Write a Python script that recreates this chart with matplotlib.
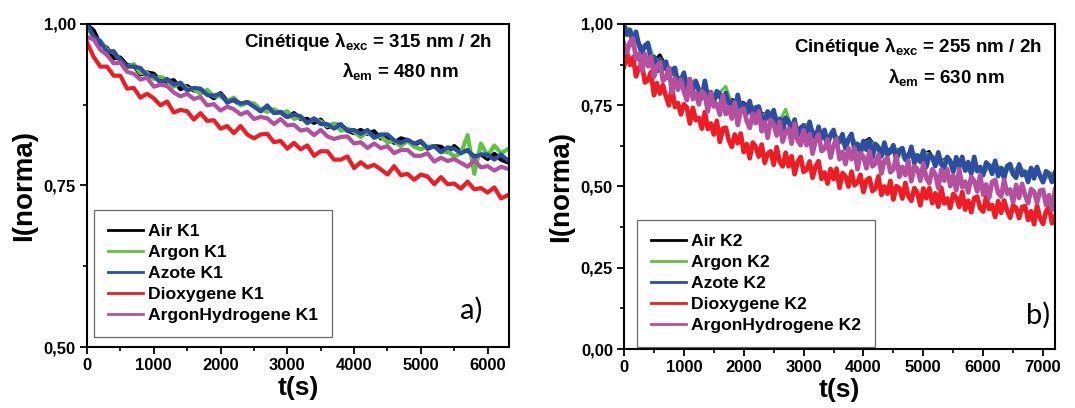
import numpy as np
import matplotlib
matplotlib.use("Agg")
import matplotlib.pyplot as plt
from matplotlib.ticker import FuncFormatter, MultipleLocator

# ---------------- data ----------------
t_k1 = np.arange(0, 6301, 100)          # s, panel a)
t_k2 = np.arange(0, 7201, 50)           # s, panel b) (dense series)
t_k2c = np.arange(0, 7201, 100)         # s, panel b) (mostly hidden series)

air_k1 = [.999, .990, .969, .963, .947, .948, .936, .936, .922, .925, .923, .912, .911, .913, .899, .904,
          .897, .899, .892, .885, .893, .881, .882, .875, .879, .875, .865, .872, .863, .863, .856, .862,
          .853, .853, .847, .852, .840, .844, .844, .835, .831, .836, .830, .834, .823, .826, .816, .823,
          .820, .813, .818, .807, .811, .810, .802, .811, .802, .804, .795, .798, .791, .799, .790, .786]
argon_k1 = [.995, .979, .974, .960, .956, .944, .933, .938, .924, .924, .915, .918, .914, .903, .909, .900,
            .899, .892, .898, .888, .888, .881, .886, .874, .878, .877, .868, .864, .868, .862, .865, .853,
            .856, .846, .853, .849, .842, .846, .835, .838, .833, .825, .833, .824, .826, .817, .819, .811,
            .819, .810, .806, .810, .811, .801, .803, .795, .800, .828, .768, .815, .796, .812, .800, .806]
azote_k1 = [1.000, .981, .973, .957, .958, .943, .934, .934, .932, .920, .920, .909, .915, .906, .909, .897,
            .901, .900, .890, .889, .892, .878, .883, .877, .879, .872, .865, .874, .862, .864, .856, .860,
            .857, .847, .854, .845, .845, .838, .845, .835, .836, .830, .836, .824, .829, .829, .820, .816,
            .821, .815, .819, .808, .811, .802, .809, .807, .800, .805, .794, .798, .798, .790, .798, .789]
dioxy_k1 = [.972, .949, .934, .934, .920, .920, .900, .901, .886, .892, .885, .874, .880, .863, .867, .865,
            .852, .862, .850, .851, .838, .842, .831, .842, .829, .823, .829, .830, .817, .819, .807, .816,
            .806, .812, .796, .803, .803, .790, .790, .795, .777, .786, .778, .782, .775, .767, .780, .766,
            .768, .759, .767, .764, .752, .763, .752, .753, .745, .756, .744, .746, .739, .747, .730, .735]
arhyd_k1 = [.980, .976, .960, .952, .939, .940, .926, .923, .914, .917, .903, .906, .904, .894, .888, .892,
            .884, .887, .874, .876, .866, .872, .868, .860, .864, .853, .856, .854, .845, .853, .843, .844,
            .835, .837, .828, .836, .826, .822, .825, .826, .815, .817, .808, .815, .808, .811, .800, .805,
            .805, .796, .796, .800, .787, .793, .788, .791, .785, .779, .789, .778, .780, .773, .779, .776]

air_k2 = [.995, .968, .960, .925, .930, .885, .905, .870, .850, .832, .840, .812, .815, .790, .785, .772,
          .778, .770, .768, .760, .758, .745, .735, .725, .722, .720, .700, .712, .690, .668, .682, .690,
          .655, .660, .640, .662, .645, .628, .655, .620, .635, .648, .622, .600, .612, .620, .605, .590,
          .612, .585, .600, .608, .570, .578, .588, .555, .570, .556, .548, .560, .540, .562, .570, .550,
          .556, .545, .562, .540, .550, .555, .520, .535, .538]
argon_k2 = [.990, .985, .955, .918, .945, .892, .890, .875, .862, .825, .845, .818, .828, .782, .780, .768,
            .790, .808, .755, .770, .745, .755, .738, .718, .728, .728, .702, .738, .680, .662, .690, .692,
            .645, .655, .632, .668, .640, .622, .650, .628, .632, .640, .625, .595, .605, .622, .608, .578,
            .615, .590, .605, .600, .565, .575, .585, .548, .568, .552, .545, .555, .538, .560, .572, .552,
            .558, .540, .565, .545, .548, .556, .515, .540, .540]
azote_k2 = [1.000, .967, .981, .935, .976, .934, .910, .934, .941, .888, .899, .855, .893, .861, .884, .833,
            .858, .865, .819, .826, .850, .789, .825, .798, .824, .795, .773, .825, .775, .790, .761, .793,
            .785, .744, .788, .755, .762, .734, .782, .737, .754, .725, .763, .707, .743, .746, .714, .697,
            .731, .707, .735, .686, .708, .668, .712, .700, .673, .706, .656, .681, .688, .651, .699, .659,
            .647, .684, .648, .674, .627, .659, .674, .632, .638, .661, .617, .646, .662, .613, .631, .600,
            .640, .613, .642, .589, .631, .621, .593, .635, .598, .606, .627, .580, .612, .618, .583, .590,
            .622, .571, .596, .576, .610, .560, .597, .591, .563, .605, .569, .556, .591, .579, .545, .590,
            .563, .591, .549, .575, .539, .591, .547, .560, .535, .574, .564, .539, .579, .532, .557, .525,
            .563, .569, .537, .527, .568, .535, .545, .514, .557, .525, .560, .532, .513, .547, .540, .514,
            .543]
dioxy_k2 = [.869, .911, .874, .898, .839, .866, .873, .820, .827, .852, .781, .818, .786, .812, .777, .750,
            .805, .745, .757, .722, .753, .743, .694, .742, .704, .711, .678, .729, .677, .694, .660, .702,
            .637, .678, .681, .643, .622, .660, .633, .663, .606, .630, .587, .635, .622, .592, .629, .573,
            .601, .608, .567, .621, .576, .562, .604, .562, .593, .538, .575, .591, .545, .552, .577, .527,
            .561, .578, .523, .543, .509, .554, .523, .555, .496, .541, .531, .500, .546, .504, .512, .536,
            .483, .519, .526, .486, .494, .531, .474, .500, .478, .517, .460, .501, .495, .463, .511, .470,
            .456, .495, .481, .442, .494, .464, .495, .449, .479, .438, .496, .448, .463, .434, .477, .466,
            .437, .483, .429, .456, .421, .464, .469, .433, .423, .469, .431, .443, .406, .455, .419, .457,
            .426, .404, .442, .434, .403, .437, .439, .397, .424, .384, .441, .403, .385, .423, .438, .387,
            .408]
arhyd_k2 = [.940, .912, .945, .956, .892, .909, .856, .907, .870, .900, .838, .871, .882, .825, .835, .865,
            .788, .832, .798, .829, .792, .766, .831, .769, .788, .753, .793, .783, .731, .786, .746, .755,
            .721, .780, .723, .744, .709, .758, .689, .735, .740, .701, .680, .724, .695, .731, .670, .698,
            .650, .705, .691, .657, .699, .638, .669, .678, .632, .693, .642, .627, .673, .627, .661, .601,
            .642, .660, .609, .616, .645, .589, .627, .646, .584, .606, .569, .618, .584, .619, .553, .603,
            .591, .556, .609, .562, .571, .598, .540, .580, .588, .544, .553, .594, .530, .560, .535, .579,
            .516, .562, .554, .518, .571, .526, .510, .553, .538, .495, .552, .518, .553, .501, .534, .488,
            .553, .498, .515, .482, .530, .517, .485, .535, .475, .506, .466, .514, .520, .480, .469, .520,
            .478, .491, .451, .505, .465, .508, .473, .449, .492, .484, .450, .487, .490, .443, .473, .428,
            .490]

labels_k1 = ["Air K1", "Argon K1", "Azote K1", "Dioxygene K1", "ArgonHydrogene K1"]
labels_k2 = ["Air K2", "Argon K2", "Azote K2", "Dioxygene K2", "ArgonHydrogene K2"]
colors = ["#000000", "#5cc43e", "#2b4ea3", "#ee1c25", "#b5509f"]

# ---------------- style ----------------
plt.rcParams['font.family'] = ['Liberation Sans', 'DejaVu Sans']
plt.rcParams['font.weight'] = 'bold'
plt.rcParams['mathtext.fontset'] = 'custom'
plt.rcParams['mathtext.rm'] = 'Liberation Sans:bold'
plt.rcParams['mathtext.it'] = 'Liberation Sans:bold'
plt.rcParams['mathtext.bf'] = 'Liberation Sans:bold'

fig = plt.figure(figsize=(10.75, 4.08), dpi=100)
ax1 = fig.add_axes([0.0809, 0.1495, 0.3926, 0.7917])
ax2 = fig.add_axes([0.5805, 0.1446, 0.4009, 0.7966])

comma = FuncFormatter(lambda v, p: f"{v:.2f}".replace('.', ','))


def style(ax, xmax, ymin, ystep):
    ax.set_xlim(0, xmax)
    ax.set_ylim(ymin, 1.0)
    ax.xaxis.set_major_locator(MultipleLocator(1000))
    ax.xaxis.set_minor_locator(MultipleLocator(500))
    ax.yaxis.set_major_locator(MultipleLocator(ystep))
    ax.yaxis.set_minor_locator(MultipleLocator(ystep / 2))
    ax.yaxis.set_major_formatter(comma)
    ax.tick_params(which='major', direction='out', length=5, width=1.3, labelsize=12, pad=3)
    ax.tick_params(which='minor', direction='out', length=3, width=1.2)
    for lab in ax.get_xticklabels() + ax.get_yticklabels():
        lab.set_fontweight('bold')
    for s in ax.spines.values():
        s.set_linewidth(1.5)
    ax.set_xlabel("t(s)", fontsize=19, fontweight='bold', labelpad=2)
    ax.set_ylabel("I(norma)", fontsize=20, fontweight='bold', labelpad=5)


series_k1 = [air_k1, argon_k1, azote_k1, dioxy_k1, arhyd_k1]
for y, lab, c in zip(series_k1, labels_k1, colors):
    ax1.plot(t_k1, y, color=c, lw=3.0, label=lab)

ax2.plot(t_k2c, air_k2, color=colors[0], lw=2.2, label=labels_k2[0])
ax2.plot(t_k2c, argon_k2, color=colors[1], lw=2.2, label=labels_k2[1])
ax2.plot(t_k2, azote_k2, color=colors[2], lw=3.4, label=labels_k2[2])
ax2.plot(t_k2, dioxy_k2, color=colors[3], lw=3.4, label=labels_k2[3])
ax2.plot(t_k2, arhyd_k2, color=colors[4], lw=3.4, label=labels_k2[4])

style(ax1, 6320, 0.5, 0.25)
style(ax2, 7200, 0.0, 0.25)

leg_kw = dict(loc='lower left', borderaxespad=0, fancybox=False, handlelength=2.0,
              handletextpad=0.3, labelspacing=0.33, borderpad=0.8,
              prop={'weight': 'bold', 'size': 12.6})
l1 = ax1.legend(bbox_to_anchor=(0.017, 0.031), **leg_kw)
l2 = ax2.legend(bbox_to_anchor=(0.030, 0.006), **leg_kw)
for lg in (l1, l2):
    lg.get_frame().set_edgecolor('#444444')
    lg.get_frame().set_linewidth(0.9)
    for ln in lg.get_lines():
        ln.set_linewidth(2.0)

ax1.text(0.96, 0.929, r"Cinétique $\lambda_{\rm exc}$ = 315 nm / 2h", transform=ax1.transAxes,
         ha='right', va='baseline', fontsize=13.5, fontweight='bold')
ax1.text(0.604, 0.836, r"$\lambda_{\rm em}$ = 480 nm", transform=ax1.transAxes,
         ha='left', va='baseline', fontsize=13.5, fontweight='bold')
ax2.text(0.97, 0.914, r"Cinétique $\lambda_{\rm exc}$ = 255 nm / 2h", transform=ax2.transAxes,
         ha='right', va='baseline', fontsize=13.5, fontweight='bold')
ax2.text(0.6125, 0.818, r"$\lambda_{\rm em}$ = 630 nm", transform=ax2.transAxes,
         ha='left', va='baseline', fontsize=13.5, fontweight='bold')

ax1.text(0.936, 0.115, "a)", transform=ax1.transAxes, ha='right', va='center',
         fontsize=21, fontweight='normal', family='Lato')
ax2.text(0.988, 0.105, "b)", transform=ax2.transAxes, ha='right', va='center',
         fontsize=21, fontweight='normal', family='Lato')

fig.savefig("out.png", dpi=100)
